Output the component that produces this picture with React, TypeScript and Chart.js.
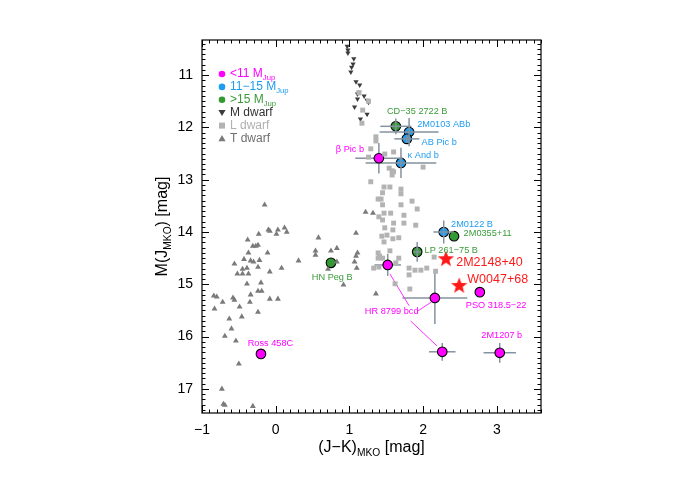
import React, { useEffect, useRef } from 'react';
import { Chart, registerables } from 'chart.js';

Chart.register(...registerables);

const FONT = '"Liberation Sans", Arial, Helvetica, sans-serif';

// Axis ranges / ticks
const X_MIN = -1;
const X_MAX = 3.6;
const Y_MIN = 10.33;
const Y_MAX = 17.46;
const X_TICKS = [-1, 0, 1, 2, 3];
const Y_TICKS = [11, 12, 13, 14, 15, 16, 17];

// Field dwarfs: [J-K, M(J)]
const M_DWARF_X = [0.97, 0.98, 0.98, 1.06, 1.05, 1.03, 1.02, 1.09, 1.14, 1.13, 1.11, 1.20, 1.11, 1.24, 1.26, 1.07, 1.24, 1.15];
const M_DWARF_Y = [10.45, 10.52, 10.58, 10.69, 10.79, 10.85, 10.94, 11.13, 11.19, 11.33, 11.36, 11.40, 11.46, 11.48, 11.52, 11.61, 11.75, 11.84];

const L_DWARF_X = [1.13, 1.26, 1.18, 1.17, 1.36, 1.36, 1.29, 1.26, 1.48, 1.60, 1.54, 1.58, 1.60, 1.58, 2.00, 1.29, 1.47, 1.55, 1.45, 1.70,
  1.70, 1.39, 1.43, 1.45, 1.70, 1.85, 1.92, 1.47, 1.56, 1.40, 1.74, 1.45, 1.60, 1.59, 1.48, 1.74, 1.90, 1.44, 1.51, 1.59,
  1.67, 1.47, 1.55, 1.41, 1.39, 1.45, 1.67, 1.63, 1.33, 1.40, 1.81, 1.89, 1.97, 2.05, 1.81, 2.17, 1.62, 1.39, 2.15, 1.82];
const L_DWARF_Y = [11.34, 11.50, 11.67, 11.92, 12.18, 12.26, 12.41, 12.57, 12.51, 12.47, 12.78, 12.83, 12.85, 12.91, 12.76, 13.04, 13.14, 13.14, 13.25, 13.18,
  13.27, 13.37, 13.37, 13.48, 13.48, 13.41, 13.56, 13.64, 13.64, 13.71, 13.68, 13.77, 13.83, 13.96, 13.92, 13.83, 13.87, 14.08, 14.06, 14.13,
  14.11, 14.19, 14.36, 14.46, 14.50, 14.50, 14.50, 14.59, 14.69, 14.67, 14.69, 14.73, 14.73, 14.69, 14.82, 14.75, 14.99, 14.40, 14.48, 15.09];

const T_DWARF_X = [-0.15, -0.10, -0.08, 0.03, 0.01, 0.12, 0.15, -0.23, -0.38, -0.31, -0.27, -0.24, -0.37, -0.11, -0.43, -0.34, -0.30, -0.22, -0.56, -0.39,
  -0.45, -0.24, -0.52, -0.45, -0.37, -0.08, 0.08, -0.39, -0.20, -0.24, -0.19, -0.34, -0.84, -0.80, -0.58, -0.56, -0.72, -0.35, -0.08, 0.03,
  -0.83, -0.49, -0.24, -0.63, -0.46, -0.60, -0.69, -0.54, -0.50, -0.73, -0.71, -0.69, -0.31, 0.58, 0.54, 0.54, 0.75, 0.83, 0.31, 0.83,
  0.71, 1.22, 1.32, 1.09, 1.11, 1.09, 1.07, 1.10, 1.36, 0.92];
const T_DWARF_Y = [13.48, 13.96, 13.98, 13.96, 14.04, 13.92, 14.00, 14.04, 14.15, 14.27, 14.27, 14.25, 14.40, 14.40, 14.52, 14.55, 14.57, 14.54, 14.61, 14.69,
  14.71, 14.67, 14.80, 14.80, 14.80, 14.76, 14.69, 14.99, 14.97, 15.13, 15.13, 15.20, 15.22, 15.24, 15.26, 15.30, 15.34, 15.34, 15.28, 15.28,
  15.47, 15.43, 15.53, 15.66, 15.62, 15.85, 15.99, 16.08, 16.52, 17.00, 17.29, 17.31, 17.33, 14.11, 14.36, 14.44, 14.36, 14.31, 14.55, 14.57,
  14.71, 13.62, 13.64, 14.02, 14.40, 14.46, 14.57, 14.69, 15.18, 15.01];

// Young / low-gravity companions and free-floating objects
const OBJ_NAMES = ['CD−35 2722 B', '2M0103 ABb', 'AB Pic b', 'β Pic b', 'κ And b', '2M0122 B', '2M0355+11', 'LP 261−75 B',
  '2M2148+40', 'W0047+68', 'PSO 318.5−22', 'HR 8799 b', 'HR 8799 c', 'HR 8799 d', '2M1207 b', 'HN Peg B', 'Ross 458C'];
const OBJ_GROUP = ['gt15', 'mid', 'mid', 'lt11', 'mid', 'mid', 'gt15', 'gt15',
  'field', 'field', 'lt11', 'lt11', 'lt11', 'lt11', 'lt11', 'gt15', 'lt11'];
const OBJ_X = [1.63, 1.81, 1.78, 1.40, 1.70, 2.28, 2.42, 1.92, 2.31, 2.49, 2.77, 1.52, 2.16, 2.26, 3.04, 0.75, -0.20];
const OBJ_Y = [11.98, 12.09, 12.22, 12.59, 12.68, 14.00, 14.08, 14.38, 14.52, 15.03, 15.15, 14.63, 15.26, 16.29, 16.31, 14.59, 16.33];
const OBJ_XERR = [0.21, 0.40, 0.17, 0.32, 0.48, 0.14, 0, 0.05, 0, 0, 0, 0.18, 0.44, 0.18, 0.22, 0, 0];
const OBJ_YERR = [0.15, 0.27, 0.08, 0.29, 0.29, 0.22, 0, 0.19, 0, 0, 0, 0.21, 0.50, 0.17, 0.19, 0, 0];

// Annotation text anchors (data coordinates)
const LABEL_TEXT = ['CD−35 2722 B', '2M0103 ABb', 'AB Pic b', 'β Pic b', 'κ And b', '2M0122 B', '2M0355+11', 'LP 261−75 B',
  '2M2148+40', 'W0047+68', 'PSO 318.5−22', 'HR 8799 bcd', '2M1207 b', 'Ross 458C', 'HN Peg B'];
const LABEL_X = [1.51, 1.92, 1.98, 1.20, 1.79, 2.38, 2.55, 2.02, 2.45, 2.60, 2.58, 1.21, 2.79, -0.38, 0.49];
const LABEL_Y = [11.69, 11.94, 12.28, 12.43, 12.53, 13.85, 14.02, 14.36, 14.59, 14.90, 15.41, 15.51, 15.97, 16.14, 14.86];
const LABEL_GROUP = ['gt15', 'mid', 'mid', 'lt11', 'mid', 'mid', 'gt15', 'gt15', 'field', 'field', 'lt11', 'lt11', 'lt11', 'lt11', 'gt15'];

// HR 8799 leader lines
const HR_LINE_B = [{ x: 1.55, y: 14.80 }, { x: 1.81, y: 15.41 }];
const HR_LINE_C = [{ x: 1.93, y: 15.51 }, { x: 2.11, y: 15.34 }];
const HR_LINE_D = [{ x: 1.83, y: 15.70 }, { x: 2.19, y: 16.18 }];

const COLORS: Record<string, string> = {
  lt11: '#ff00ff',
  mid: '#1e9cf0',
  gt15: '#339933',
  field: '#ff1a1a',
};
const TEXT_COLORS: Record<string, string> = {
  lt11: '#ff00ff',
  mid: '#1e9cf0',
  gt15: '#3a9a3a',
  field: '#ff1a1a',
};

function makeStar(ro: number, ri: number, color: string): HTMLCanvasElement {
  const c = document.createElement('canvas');
  const s = Math.ceil(ro * 2 + 2);
  c.width = s;
  c.height = s;
  const ctx = c.getContext('2d')!;
  ctx.translate(s / 2, s / 2);
  ctx.beginPath();
  for (let i = 0; i < 10; i++) {
    const r = i % 2 === 0 ? ro : ri;
    const a = -Math.PI / 2 + (i * Math.PI) / 5;
    const px = r * Math.cos(a);
    const py = r * Math.sin(a);
    if (i === 0) ctx.moveTo(px, py);
    else ctx.lineTo(px, py);
  }
  ctx.closePath();
  ctx.fillStyle = color;
  ctx.fill();
  return c;
}

type Part = [string, boolean];

function drawRich(ctx: CanvasRenderingContext2D, parts: Part[], x: number, y: number, size: number, color: string, align: 'left' | 'right' | 'center') {
  const sub = size * 0.64;
  let w = 0;
  for (const [t, s] of parts) {
    ctx.font = `${s ? sub : size}px ${FONT}`;
    w += ctx.measureText(t).width;
  }
  let cx = align === 'left' ? x : align === 'right' ? x - w : x - w / 2;
  ctx.fillStyle = color;
  ctx.textAlign = 'left';
  ctx.textBaseline = 'middle';
  for (const [t, s] of parts) {
    ctx.font = `${s ? sub : size}px ${FONT}`;
    ctx.fillText(t, cx, y + (s ? size * 0.33 : 0));
    cx += ctx.measureText(t).width;
  }
}

const fmtTick = (v: number) => (v < 0 ? '−' + Math.abs(v) : String(v));

export default function App() {
  const ref = useRef<HTMLCanvasElement>(null);

  useEffect(() => {
    if (!ref.current) return;
    const pts = (xs: number[], ys: number[]) => xs.map((x, i) => ({ x, y: ys[i] }));
    const idxOf = (g: string) => OBJ_GROUP.map((gg, i) => (gg === g ? i : -1)).filter((i) => i >= 0);
    const grpPts = (g: string) => idxOf(g).map((i) => ({ x: OBJ_X[i], y: OBJ_Y[i] }));
    const star = makeStar(8.6, 3.6, COLORS.field);

    const lineDs = (data: { x: number; y: number }[]) => ({
      data,
      showLine: true,
      borderColor: '#ff33ff',
      borderWidth: 1,
      pointRadius: 0,
      fill: false,
    });

    const datasets: any[] = [
      { data: pts(T_DWARF_X, T_DWARF_Y), pointStyle: 'triangle', pointRadius: 3.4, backgroundColor: '#7a7a7a', borderColor: '#7a7a7a', borderWidth: 0 },
      { data: pts(L_DWARF_X, L_DWARF_Y), pointStyle: 'rect', pointRadius: 3.5, backgroundColor: '#b3b3b3', borderColor: '#b3b3b3', borderWidth: 0 },
      { data: pts(M_DWARF_X, M_DWARF_Y), pointStyle: 'triangle', rotation: 180, pointRadius: 3.0, backgroundColor: '#3c3c3c', borderColor: '#3c3c3c', borderWidth: 0 },
      lineDs(HR_LINE_B),
      lineDs(HR_LINE_C),
      lineDs(HR_LINE_D),
      { data: grpPts('lt11'), pointStyle: 'circle', pointRadius: 4.8, backgroundColor: COLORS.lt11, borderColor: '#000', borderWidth: 1.1 },
      { data: grpPts('mid'), pointStyle: 'circle', pointRadius: 4.8, backgroundColor: COLORS.mid, borderColor: '#000', borderWidth: 1.1 },
      { data: grpPts('gt15'), pointStyle: 'circle', pointRadius: 4.8, backgroundColor: COLORS.gt15, borderColor: '#000', borderWidth: 1.1 },
      { data: grpPts('field'), pointStyle: star, pointRadius: 9, backgroundColor: COLORS.field, borderColor: COLORS.field },
    ];
    const ERR_INDEX = 6;

    const deco = {
      id: 'deco',
      beforeDatasetDraw(chart: any, args: any) {
        if (args.index !== ERR_INDEX) return;
        const ctx: CanvasRenderingContext2D = chart.ctx;
        const sx = chart.scales.x;
        const sy = chart.scales.y;
        ctx.save();
        ctx.strokeStyle = '#8592a0';
        ctx.lineWidth = 1.5;
        for (let i = 0; i < OBJ_X.length; i++) {
          const x = OBJ_X[i];
          const y = OBJ_Y[i];
          if (OBJ_XERR[i] > 0) {
            ctx.beginPath();
            ctx.moveTo(sx.getPixelForValue(x - OBJ_XERR[i]), sy.getPixelForValue(y));
            ctx.lineTo(sx.getPixelForValue(x + OBJ_XERR[i]), sy.getPixelForValue(y));
            ctx.stroke();
          }
          if (OBJ_YERR[i] > 0) {
            ctx.beginPath();
            ctx.moveTo(sx.getPixelForValue(x), sy.getPixelForValue(y - OBJ_YERR[i]));
            ctx.lineTo(sx.getPixelForValue(x), sy.getPixelForValue(y + OBJ_YERR[i]));
            ctx.stroke();
          }
        }
        ctx.restore();
      },
      afterDraw(chart: any) {
        const ctx: CanvasRenderingContext2D = chart.ctx;
        const a = chart.chartArea;
        const sx = chart.scales.x;
        const sy = chart.scales.y;
        ctx.save();
        // frame
        ctx.strokeStyle = '#000';
        ctx.lineWidth = 1.2;
        ctx.strokeRect(a.left, a.top, a.right - a.left, a.bottom - a.top);
        // ticks
        ctx.lineWidth = 1;
        ctx.beginPath();
        for (let i = -10; i <= 36; i++) {
          const v = i / 10;
          const px = Math.round(sx.getPixelForValue(v)) + 0.5;
          const len = i % 10 === 0 ? 7 : 3.5;
          ctx.moveTo(px, a.bottom);
          ctx.lineTo(px, a.bottom - len);
          ctx.moveTo(px, a.top);
          ctx.lineTo(px, a.top + len);
        }
        for (let i = 104; i <= 174; i++) {
          const v = i / 10;
          const py = Math.round(sy.getPixelForValue(v)) + 0.5;
          const len = i % 10 === 0 ? 7 : 3.5;
          ctx.moveTo(a.left, py);
          ctx.lineTo(a.left + len, py);
          ctx.moveTo(a.right, py);
          ctx.lineTo(a.right - len, py);
        }
        ctx.stroke();

        // annotations
        for (let i = 0; i < LABEL_TEXT.length; i++) {
          const g = LABEL_GROUP[i];
          const size = g === 'field' ? 12.5 : 9.2;
          const align = LABEL_TEXT[i] === 'β Pic b' ? 'right' : 'left';
          drawRich(ctx, [[LABEL_TEXT[i], false]], sx.getPixelForValue(LABEL_X[i]), sy.getPixelForValue(LABEL_Y[i]), size, TEXT_COLORS[g], align);
        }

        // legend
        const lx = a.left + 20;
        const tx = a.left + 28;
        const ly0 = a.top + 34;
        const dy = 12.9;
        const rows: { parts: Part[]; color: string; marker: string; mcolor: string }[] = [
          { parts: [['<11 M', false], ['Jup', true]], color: TEXT_COLORS.lt11, marker: 'circle', mcolor: COLORS.lt11 },
          { parts: [['11−15 M', false], ['Jup', true]], color: TEXT_COLORS.mid, marker: 'circle', mcolor: COLORS.mid },
          { parts: [['>15 M', false], ['Jup', true]], color: TEXT_COLORS.gt15, marker: 'circle', mcolor: COLORS.gt15 },
          { parts: [['M dwarf', false]], color: '#333333', marker: 'down', mcolor: '#3c3c3c' },
          { parts: [['L dwarf', false]], color: '#b0b0b0', marker: 'rect', mcolor: '#b3b3b3' },
          { parts: [['T dwarf', false]], color: '#6e6e6e', marker: 'up', mcolor: '#7a7a7a' },
        ];
        rows.forEach((r, k) => {
          const y = ly0 + k * dy;
          ctx.fillStyle = r.mcolor;
          ctx.beginPath();
          if (r.marker === 'circle') {
            ctx.arc(lx, y, 3.3, 0, Math.PI * 2);
          } else if (r.marker === 'rect') {
            ctx.rect(lx - 3, y - 3, 6, 6);
          } else if (r.marker === 'down') {
            ctx.moveTo(lx - 3.6, y - 2.6);
            ctx.lineTo(lx + 3.6, y - 2.6);
            ctx.lineTo(lx, y + 3.4);
            ctx.closePath();
          } else {
            ctx.moveTo(lx - 3.6, y + 2.8);
            ctx.lineTo(lx + 3.6, y + 2.8);
            ctx.lineTo(lx, y - 3.4);
            ctx.closePath();
          }
          ctx.fill();
          drawRich(ctx, r.parts, tx, y, 12, r.color, 'left');
        });

        // axis titles
        const cxm = (a.left + a.right) / 2;
        drawRich(ctx, [['(J−K)', false], ['MKO', true], [' [mag]', false]], cxm, a.bottom + 35, 16, '#000', 'center');
        ctx.save();
        ctx.translate(a.left - 39, (a.top + a.bottom) / 2);
        ctx.rotate(-Math.PI / 2);
        drawRich(ctx, [['M(J', false], ['MKO', true], [') [mag]', false]], 0, 0, 16, '#000', 'center');
        ctx.restore();

        ctx.restore();
      },
    };

    const chart = new Chart(ref.current, {
      type: 'scatter',
      data: { datasets },
      options: {
        responsive: false,
        animation: false,
        events: [],
        layout: { padding: { left: 0, top: 40, right: 134, bottom: 0 } },
        plugins: { legend: { display: false }, tooltip: { enabled: false } },
        scales: {
          x: {
            type: 'linear',
            min: X_MIN,
            max: X_MAX,
            grid: { display: false, drawTicks: false },
            border: { display: false },
            ticks: { font: { family: FONT, size: 14 }, color: '#000', padding: 9, maxRotation: 0, callback: (v: any) => fmtTick(Number(v)) },
            afterBuildTicks: (s: any) => {
              s.ticks = X_TICKS.map((v) => ({ value: v }));
            },
            afterFit: (s: any) => {
              s.height = 75;
            },
          },
          y: {
            type: 'linear',
            reverse: true,
            min: Y_MIN,
            max: Y_MAX,
            grid: { display: false, drawTicks: false },
            border: { display: false },
            ticks: { font: { family: FONT, size: 14 }, color: '#000', padding: 9, callback: (v: any) => fmtTick(Number(v)) },
            afterBuildTicks: (s: any) => {
              s.ticks = Y_TICKS.map((v) => ({ value: v }));
            },
            afterFit: (s: any) => {
              s.width = 202;
            },
          },
        },
      } as any,
      plugins: [deco],
    });
    return () => chart.destroy();
  }, []);

  return (
    <div style={{ position: 'fixed', left: 0, top: 0, width: 675, height: 488, background: '#fff' }}>
      <canvas ref={ref} width={675} height={488} style={{ display: 'block', width: 675, height: 488 }} />
    </div>
  );
}
